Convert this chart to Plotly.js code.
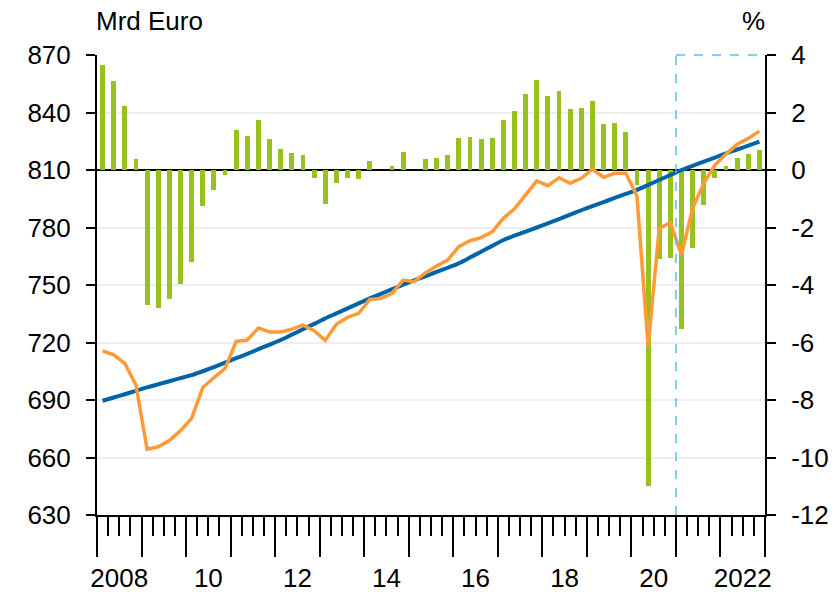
<!DOCTYPE html>
<html>
<head>
<meta charset="utf-8">
<script src="https://cdn.plot.ly/plotly-3.0.1.min.js"></script>
<style>html,body{margin:0;padding:0;background:#fff;}#chart{width:838px;height:592px;}</style>
</head>
<body>
<div id="chart"></div>
<script>
// Quarters 2008Q1 .. 2022Q4 (positions in fractional years, quarter centres)
const years = [2008,2009,2010,2011,2012,2013,2014,2015,2016,2017,2018,2019,2020,2021,2022];
const quarterLabels = [];
const quarterPos = [];
years.forEach(y => { for (let q = 1; q <= 4; q++) { quarterLabels.push(y + ' Q' + q); quarterPos.push(y + (q - 0.5) / 4); } });

// Output gap, % (right axis) - green bars
const outputGap = [
  3.65, 3.11, 2.23, 0.37,
  -4.70, -4.79, -4.47, -3.98,
  -3.20, -1.25, -0.70, -0.17,
  1.39, 1.18, 1.74, 1.08,
  0.73, 0.58, 0.52, -0.27,
  -1.19, -0.46, -0.28, -0.32,
  0.32, 0.00, 0.14, 0.61,
  0.00, 0.37, 0.43, 0.53,
  1.11, 1.15, 1.07, 1.11,
  1.73, 2.06, 2.64, 3.14,
  2.57, 2.74, 2.11, 2.14,
  2.40, 1.61, 1.63, 1.33,
  -0.52, -11.0, -3.11, -3.07,
  -5.54, -2.71, -1.22, -0.29,
  0.15, 0.43, 0.57, 0.71
];

// Real GDP, Mrd Euro (left axis) - orange line
const gdp = [
  715.6, 713.6, 709.1, 697.8,
  664.3, 665.6, 668.8, 674.0,
  680.4, 696.5, 701.6, 706.5,
  720.6, 721.3, 727.6, 725.5,
  725.5, 727.0, 729.1, 726.2,
  721.1, 729.5, 733.1, 735.2,
  742.5, 743.0, 745.7, 752.6,
  751.7, 756.3, 759.9, 763.0,
  770.0, 773.1, 774.7, 777.7,
  784.8, 789.8, 797.0, 804.3,
  801.8, 806.0, 803.1, 805.7,
  810.4, 806.2, 808.3, 808.3,
  796.4, 718.0, 779.6, 782.5,
  765.7, 790.0, 803.1, 812.6,
  818.3, 823.4, 826.5, 830.3
];

// Potential output, Mrd Euro (left axis) - blue line
const potential = [
  689.6, 691.3, 693.0, 694.8,
  696.6, 698.2, 699.8, 701.4,
  703.0, 705.0, 707.2, 709.5,
  711.8, 714.1, 716.5, 718.9,
  721.3, 724.1, 726.9, 729.7,
  732.6, 735.2, 737.8, 740.4,
  743.0, 745.4, 747.8, 750.2,
  752.4, 754.5, 756.8, 759.0,
  761.3, 764.3, 767.4, 770.4,
  773.5, 775.7, 777.9, 780.0,
  782.2, 784.4, 786.7, 789.0,
  791.2, 793.3, 795.4, 797.5,
  799.6, 802.2, 804.8, 807.4,
  810.0, 812.2, 814.4, 816.5,
  818.7, 820.7, 822.7, 824.8
];

const xTickVals = [2008.5, 2010.5, 2012.5, 2014.5, 2016.5, 2018.5, 2020.5, 2022.5];
const xTickText = ['2008', '10', '12', '14', '16', '18', '20', '2022'];
const leftTicks = [630, 660, 690, 720, 750, 780, 810, 840, 870];
const rightTicks = [-12, -10, -8, -6, -4, -2, 0, 2, 4];
const rightTickText = ['-12', '-10', '-8', '-6', '-4', '-2', '0', '2', '4'];
const projectionStart = 2021;
const xStart = 2008, xEnd = 2023;

const FONT = 'Liberation Sans, Arial, sans-serif';

const traces = [
  {
    type: 'bar', x: quarterPos, y: outputGap, yaxis: 'y', xaxis: 'x',
    width: 0.11,
    marker: { color: '#97c11f', line: { width: 0 } },
    hoverinfo: 'x+y', name: 'Output gap'
  },
  {
    type: 'scatter', mode: 'lines', x: quarterPos, y: potential, yaxis: 'y2', xaxis: 'x',
    line: { color: '#0064a8', width: 4, shape: 'spline', smoothing: 0.6 }, name: 'Potential'
  },
  {
    type: 'scatter', mode: 'lines', x: quarterPos, y: gdp, yaxis: 'y2', xaxis: 'x',
    line: { color: '#ff9a36', width: 3.5 }, name: 'GDP'
  },
  {
    type: 'scatter', mode: 'markers', x: [2008.5], y: [null], xaxis: 'x2', yaxis: 'y',
    showlegend: false, hoverinfo: 'skip'
  }
];

const layout = {
  width: 838, height: 592,
  margin: { l: 97, r: 73, t: 55, b: 77 },
  paper_bgcolor: '#ffffff', plot_bgcolor: '#ffffff',
  showlegend: false,
  font: { family: FONT, size: 26, color: '#000' },
  bargap: 0,
  xaxis: {
    range: [xStart, xEnd], tickmode: 'linear', tick0: xStart, dtick: 1,
    ticks: 'outside', ticklen: 40, tickwidth: 2, tickcolor: '#000',
    showticklabels: false, showgrid: false, zeroline: false,
    showline: true, linecolor: '#000', linewidth: 2,
    minor: { tickmode: 'linear', tick0: xStart, dtick: 0.25, ticks: 'outside', ticklen: 19, tickwidth: 2, tickcolor: '#000', showgrid: false }
  },
  xaxis2: {
    overlaying: 'x', anchor: 'y', side: 'bottom',
    range: [xStart, xEnd], tickmode: 'array', tickvals: xTickVals, ticktext: xTickText,
    ticks: 'outside', ticklen: 40, tickcolor: 'rgba(0,0,0,0)',
    showgrid: false, zeroline: false, showline: false,
    tickfont: { family: FONT, size: 26, color: '#000' }
  },
  yaxis: {
    side: 'right', range: [-12, 4], tickmode: 'array', tickvals: rightTicks, ticktext: rightTickText,
    ticks: 'outside', ticklen: 9, tickwidth: 2, tickcolor: '#000',
    showline: true, linecolor: '#000', linewidth: 2,
    showgrid: true, gridcolor: '#eeeeee', gridwidth: 2,
    zeroline: false,
    ticklabelstandoff: 10,
    tickfont: { family: FONT, size: 26, color: '#000' }
  },
  yaxis2: {
    side: 'left', overlaying: 'y', range: [630, 870], tickmode: 'array', tickvals: leftTicks,
    ticks: 'outside', ticklen: 9, tickwidth: 2, tickcolor: '#000',
    showline: true, linecolor: '#000', linewidth: 2,
    showgrid: false, zeroline: false,
    ticklabelstandoff: 10,
    tickfont: { family: FONT, size: 26, color: '#000' }
  },
  shapes: [
    { type: 'line', xref: 'x', yref: 'y', x0: xStart, x1: xEnd, y0: 0, y1: 0,
      line: { color: '#000', width: 2 }, layer: 'between' },
    { type: 'line', xref: 'x', yref: 'paper', x0: projectionStart, x1: projectionStart, y0: 0, y1: 1,
      line: { color: '#55c1ee', width: 1.5, dash: 'dash' }, layer: 'above' },
    { type: 'line', xref: 'x', yref: 'paper', x0: projectionStart, x1: xEnd, y0: 1, y1: 1,
      line: { color: '#55c1ee', width: 1.5, dash: 'dash' }, layer: 'above' }
  ],
  annotations: [
    { text: 'Mrd Euro', xref: 'paper', yref: 'paper', x: 0, y: 1.0717, xanchor: 'left', yanchor: 'middle',
      xshift: -3, yshift: 1, showarrow: false, font: { family: FONT, size: 26, color: '#000' } },
    { text: '%', xref: 'paper', yref: 'paper', x: 0.9835, y: 1.0717, xanchor: 'center', yanchor: 'middle',
      yshift: 1, showarrow: false, font: { family: FONT, size: 26, color: '#000' } }
  ]
};

Plotly.newPlot('chart', traces, layout, { displayModeBar: false, staticPlot: true });
</script>
</body>
</html>
